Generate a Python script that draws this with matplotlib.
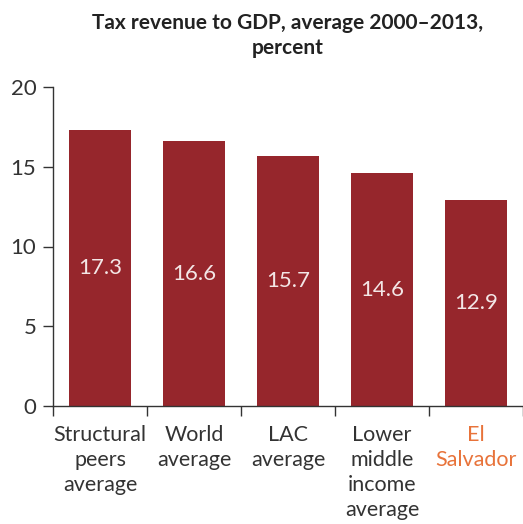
import matplotlib
matplotlib.use("Agg")
import matplotlib.pyplot as plt
import numpy as np

plt.rcParams['font.family'] = ['Lato', 'DejaVu Sans']

categories = ["Structural\npeers\naverage", "World\naverage", "LAC\naverage",
              "Lower\nmiddle\nincome\naverage", "El\nSalvador"]
values = [17.3, 16.6, 15.7, 14.6, 12.9]
yticks = [0, 5, 10, 15, 20]

bar_color = "#96262C"
axis_color = "#333333"

fig = plt.figure(figsize=(5.23, 5.24), dpi=100)
ax = fig.add_axes([53 / 523, 1 - 406 / 524, 1 - 53 / 523, (406 - 87) / 524])

x = np.arange(len(categories))
bars = ax.bar(x, values, width=0.67, color=bar_color, zorder=2)

# value labels in middle of bars
for xi, v in zip(x, values):
    ax.text(xi, v / 2, f"{v:.1f}", ha="center", va="center",
            color="#F3E6E6", fontsize=16)

ax.set_xlim(-0.5, len(categories) - 0.5)
ax.set_ylim(0, 20)
ax.set_yticks(yticks)
ax.set_yticklabels([str(t) for t in yticks], fontsize=16, color="#333333")
ax.tick_params(axis="y", length=7, width=1, color=axis_color, pad=5)

# category labels without ticks, ticks at category boundaries
ax.set_xticks(x)
ax.set_xticklabels(categories, fontsize=15.5, color="#333333", linespacing=1.3,
                   va="top")
ax.tick_params(axis="x", which="major", length=0, pad=14)
ax.set_xticks(np.arange(-0.5, len(categories), 1), minor=True)
ax.tick_params(axis="x", which="minor", length=7, width=1, color=axis_color)
ax.get_xticklabels()[-1].set_color("#E8733A")

for side in ["top", "right"]:
    ax.spines[side].set_visible(False)
for side in ["left", "bottom"]:
    ax.spines[side].set_color(axis_color)
    ax.spines[side].set_linewidth(1)

fig.text(288 / 523, 1 - 13 / 524, "Tax revenue to GDP, average 2000\u20132013,\npercent",
         ha="center", va="top", fontsize=15, fontweight="bold", color="#222222",
         linespacing=1.3)

fig.savefig("out.png", dpi=100)
